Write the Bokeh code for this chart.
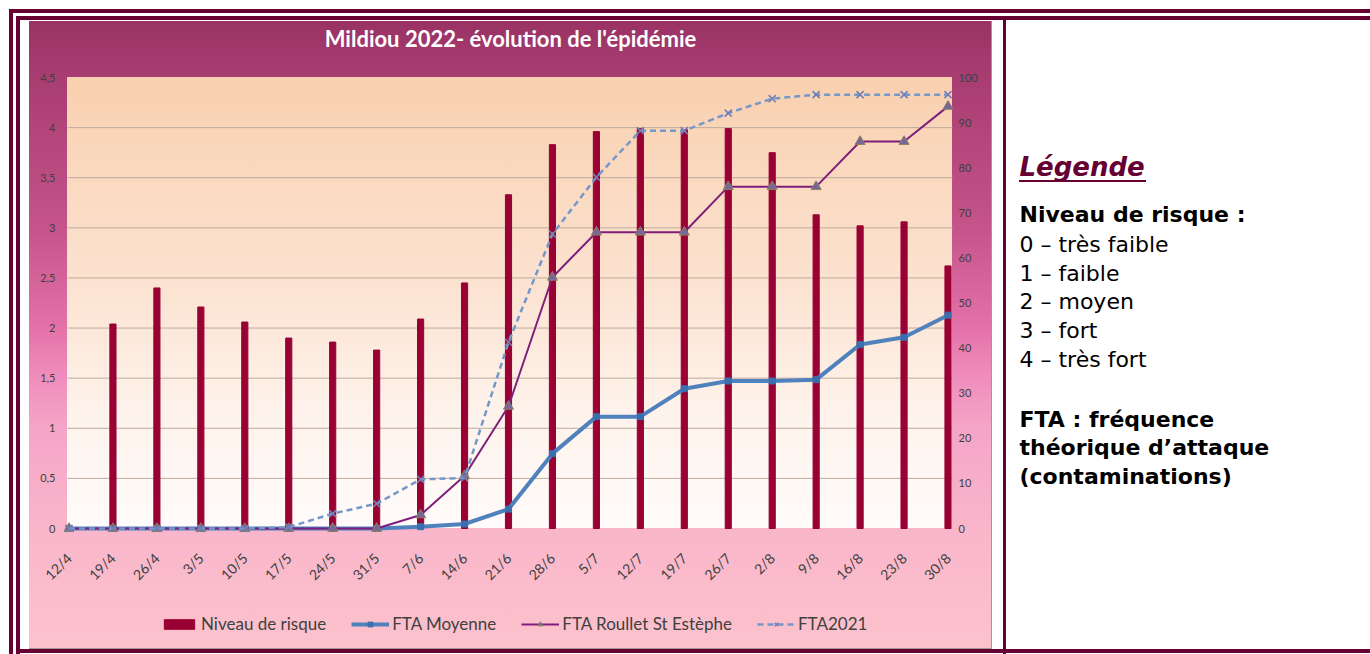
from bokeh.plotting import figure
from bokeh.models import (Range1d, LinearAxis, FixedTicker, Legend, LegendItem, Label,
                          CustomJSTickFormatter)
from bokeh.embed import file_html
from bokeh.resources import INLINE
import math

# ---------------- data ----------------
dates = ["12/4", "19/4", "26/4", "3/5", "10/5", "17/5", "24/5", "31/5", "7/6", "14/6", "21/6",
         "28/6", "5/7", "12/7", "19/7", "26/7", "2/8", "9/8", "16/8", "23/8", "30/8"]
niveau_risque = [0, 2.04, 2.40, 2.21, 2.06, 1.90, 1.86, 1.78, 2.09, 2.45, 3.33,
                 3.83, 3.96, 3.99, 3.98, 3.99, 3.75, 3.13, 3.02, 3.06, 2.62]
fta_moyenne = [0, 0, 0, 0, 0, 0, 0, 0, 0.4, 1.0, 4.3,
               16.6, 24.8, 24.8, 31.0, 32.7, 32.7, 33.0, 40.8, 42.4, 47.3]
fta_roullet = [0, 0, 0, 0, 0, 0, 0, 0, 3.0, 11.7, 27.1,
               55.7, 65.7, 65.7, 65.7, 75.8, 75.8, 75.8, 85.8, 85.8, 93.6]
fta_2021 = [0, 0, 0, 0, 0, 0.3, 3.3, 5.5, 10.9, 11.2, 41.3,
            65.3, 77.9, 88.2, 88.2, 92.1, 95.3, 96.2, 96.2, 96.2, 96.2]
left_ticks = [0, 0.5, 1, 1.5, 2, 2.5, 3, 3.5, 4, 4.5]
right_ticks = [0, 10, 20, 30, 40, 50, 60, 70, 80, 90, 100]
series_names = ["Niveau de risque", "FTA Moyenne", "FTA Roullet St Estèphe", "FTA2021"]
title_text = "Mildiou 2022- évolution de l'épidémie"
legend_title = "Légende"
legend_lines = [("Niveau de risque :", True), ("0 – très faible", False), ("1 – faible", False),
                ("2 – moyen", False), ("3 – fort", False), ("4 – très fort", False),
                ("FTA : fréquence", True), ("théorique d’attaque", True), ("(contaminations)", True)]

# ---------------- geometry (page pixels) ----------------
W, H = 1370, 654
FL, FR, FT, FB = 67, 952, 77, 528        # chart plot area
X_FIRST, X_STEP = 68.5, 43.95            # pixel of first category, spacing
Y_UNIT = (FB - FT) / 4.5                 # px per unit (left axis)
R_UNIT = (FB - FT) / 100.0               # px per unit (right axis)
MAROON = "#660033"
FONT = "Lato"
BASE_SHIFT = 0.36                        # empirical baseline correction (x font size)


def dx(px):
    return (px - X_FIRST) / X_STEP


def dy(py):
    return (FB - py) / Y_UNIT


def solid(x, y, w, h, c=MAROON):
    return f"linear-gradient({c},{c}) {x}px {y}px / {w} {h} no-repeat"


bg = [
    solid(1019, 180, "127px", "2px"),        # underline of "Légende"
    solid(9, 9, "100%", "4px"),
    solid(9, 9, "4px", "100%"),
    solid(16, 16, "100%", "4px"),
    solid(16, 16, "4px", "100%"),
    solid(1003, 16, "3px", "100%"),
    solid(16, 649, "100%", "4px"),
    f"linear-gradient(#f9d0af 0%, #fce2d0 45%, #fef3ec 75%, #fffbfa 100%) {FL}px {FT}px / {FR-FL}px {FB-FT}px no-repeat",
    "linear-gradient(#9a3264 0%, #a83d71 9%, #c4548a 33%, #e472a9 49%, #f08ebd 57%, "
    "#f5a5c7 65%, #f9b6cb 81%, #fcc2cc 100%) 29px 21px / 962px 627px no-repeat",
    "linear-gradient(#a59696,#a59696) 29px 21px / 963px 628px no-repeat",
    "#ffffff",
]

xs = list(range(len(dates)))

p = figure(width=W, height=H, output_backend="svg", toolbar_location=None,
           x_range=Range1d(dx(0), dx(W)), y_range=Range1d(dy(H), dy(0)),
           min_border=0, min_border_left=0, min_border_right=0, min_border_top=0, min_border_bottom=0,
           background_fill_alpha=0, border_fill_alpha=0, outline_line_color=None,
           styles={"background": ", ".join(bg)})
p.title.visible = False
p.extra_y_ranges = {"r": Range1d((FB - H) / R_UNIT, FB / R_UNIT)}
p.xgrid.visible = False
p.ygrid.visible = False

# horizontal grid lines at the left-axis ticks, inside the plot area only
grid_vals = left_ticks[1:-1]
p.segment(x0=[dx(FL)] * len(grid_vals), x1=[dx(FR)] * len(grid_vals),
          y0=grid_vals, y1=grid_vals, line_color="#bfaa9e", line_width=1)

# axes (fixed at the plot-area edges)
comma = CustomJSTickFormatter(code="return tick.toString().replace('.', ',');")
p.yaxis.ticker = FixedTicker(ticks=left_ticks)
p.yaxis.formatter = comma
p.yaxis.fixed_location = dx(FL)
raxis = LinearAxis(y_range_name="r", ticker=FixedTicker(ticks=right_ticks), fixed_location=dx(FR))
p.add_layout(raxis, "right")
p.xaxis.ticker = FixedTicker(ticks=xs)
p.xaxis.formatter = CustomJSTickFormatter(args=dict(labels=dates),
                                          code="const i = Math.round(tick); return labels[i] ?? '';")
p.xaxis.major_label_orientation = math.pi / 4
p.xaxis.fixed_location = 0

for ax in [p.yaxis[0], raxis, p.xaxis[0]]:
    ax.axis_line_color = None
    ax.major_tick_line_color = None
    ax.minor_tick_line_color = None
    ax.major_tick_in = 0
    ax.major_tick_out = 0
    ax.major_label_text_font = FONT
    ax.major_label_text_color = "#404040"
p.yaxis.major_label_text_font_size = "11px"
raxis.major_label_text_font_size = "11px"
p.xaxis.major_label_text_font_size = "14px"
p.yaxis.major_label_standoff = 12
raxis.major_label_standoff = 6
p.xaxis.major_label_standoff = 27

# glyphs
bars = p.vbar(x=xs, top=niveau_risque, width=0.14, fill_color="#990033", line_color="#990033")
l_moy = p.line(xs, fta_moyenne, y_range_name="r", line_color="#4f81bd", line_width=4)
s_moy = p.scatter(xs, fta_moyenne, y_range_name="r", marker="square", size=6,
                  fill_color="#3a6eac", line_color="#3a6eac")
l_rou = p.line(xs, fta_roullet, y_range_name="r", line_color="#7e1f7c", line_width=2)
s_rou = p.scatter(xs, fta_roullet, y_range_name="r", marker="triangle", size=10,
                  fill_color="#76679a", line_color="#8c8060", line_width=1)
l_21 = p.line(xs, fta_2021, y_range_name="r", line_color="#7398c9", line_width=2.5, line_dash="6 4")
s_21 = p.scatter(xs, fta_2021, y_range_name="r", marker="x", size=10,
                 line_color="#7480b5", line_width=1.6)

LEG_H = 20
legend = Legend(items=[LegendItem(label=series_names[0], renderers=[bars]),
                       LegendItem(label=series_names[1], renderers=[l_moy, s_moy]),
                       LegendItem(label=series_names[2], renderers=[l_rou, s_rou]),
                       LegendItem(label=series_names[3], renderers=[l_21, s_21])],
                orientation="horizontal", location=(160, H - 614 - LEG_H),
                glyph_width=38, glyph_height=12, label_height=LEG_H, label_standoff=3,
                spacing=25, padding=0, margin=0, border_line_color=None,
                background_fill_alpha=0, label_text_font=FONT, label_text_font_size="17px",
                label_text_color="#404040")
p.add_layout(legend, "center")


def label(px, py_base, text, font, style, size, color, align="left"):
    py = py_base - BASE_SHIFT * size
    p.add_layout(Label(x=dx(px), y=dy(py), text=text, text_align=align,
                       text_baseline="alphabetic", text_font=font, text_font_style=style,
                       text_font_size=f"{size}px", text_color=color))


# title
label(510, 46, title_text, FONT, "bold", 22, "#ffffff", align="center")

# right-hand text panel
label(1019, 176, legend_title, "DejaVu Sans", "bold italic", 26, MAROON)
baselines = [221.7, 251.7, 280.5, 309.3, 338.1, 366.9, 426.7, 455.2, 483.7]
for (txt, bold), b in zip(legend_lines, baselines):
    label(1019, b, txt, "DejaVu Sans", "bold" if bold else "normal", 22, "#000000")

open("out.html", "w").write(file_html(p, INLINE))
